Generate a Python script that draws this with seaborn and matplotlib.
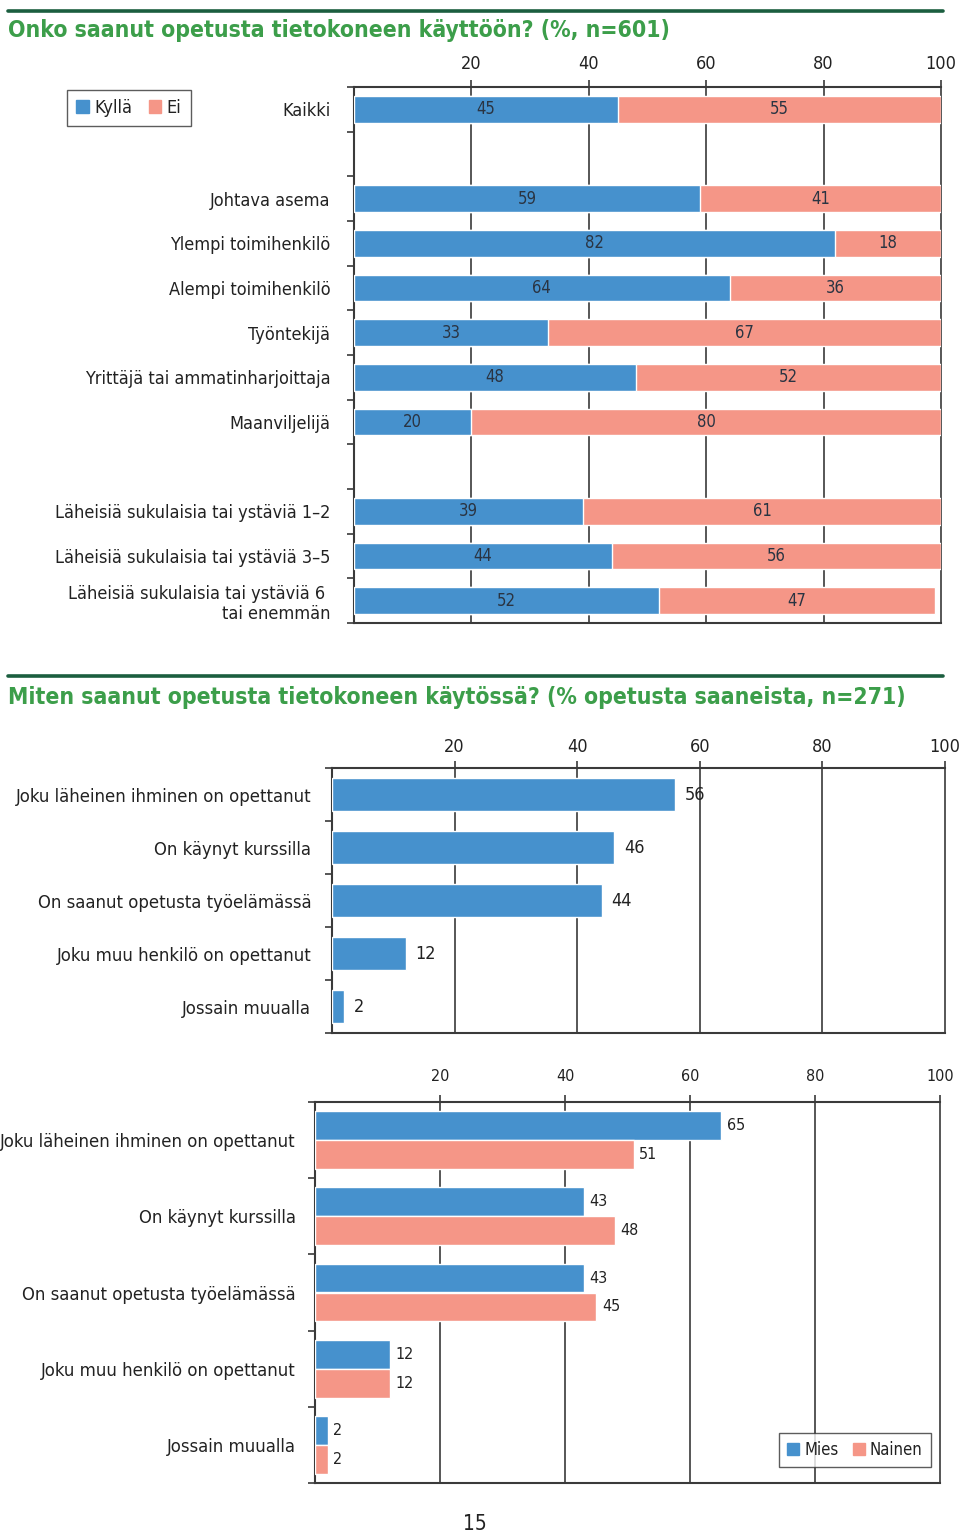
import matplotlib
matplotlib.use("Agg")
import matplotlib.pyplot as plt
from matplotlib.lines import Line2D
from matplotlib.ticker import FixedLocator
import seaborn as sns
import pandas as pd

sns.set_theme(style="white")
FONT = ["DejaVu Sans"]
plt.rcParams["font.family"] = FONT
plt.rcParams["font.stretch"] = "condensed"

BLUE = "#4691CD"
PINK = "#F59687"
GREEN = "#3C9E4A"
DKGREEN = "#1B5E3F"
GRID = "#3a3a3a"
TXT = "#222222"

# ---------------- data ----------------
groups1 = ["Kaikki", "", "Johtava asema", "Ylempi toimihenkilö", "Alempi toimihenkilö",
           "Työntekijä", "Yrittäjä tai ammatinharjoittaja", "Maanviljelijä", " ",
           "Läheisiä sukulaisia tai ystäviä 1–2", "Läheisiä sukulaisia tai ystäviä 3–5",
           "Läheisiä sukulaisia tai ystäviä 6 \ntai enemmän"]
kylla = [45, None, 59, 82, 64, 33, 48, 20, None, 39, 44, 52]
ei = [55, None, 41, 18, 36, 67, 52, 80, None, 61, 56, 47]

cats2 = ["Joku läheinen ihminen on opettanut", "On käynyt kurssilla",
         "On saanut opetusta työelämässä", "Joku muu henkilö on opettanut", "Jossain muualla"]
vals2 = [56, 46, 44, 12, 2]

mies = [65, 43, 43, 12, 2]
nainen = [51, 48, 45, 12, 2]

xticks = [20, 40, 60, 80, 100]

W, H = 960, 1540
fig = plt.figure(figsize=(W / 100, H / 100), dpi=100)


def px_axes(left, right, top, bottom):
    return fig.add_axes([left / W, 1 - bottom / H, (right - left) / W, (bottom - top) / H])


def style_axes(ax, n_slots, tick_fs, ylab_fs, ypad, xpad):
    ax.set_xlim(0, 100)
    ax.set_ylim(n_slots - 0.5, -0.5)
    ax.xaxis.tick_top()
    ax.set_xticks(xticks)
    ax.set_xticklabels([str(t) for t in xticks], fontsize=tick_fs, color=TXT)
    ax.tick_params(axis="x", which="major", direction="out", length=5, width=1.2,
                   color=GRID, pad=xpad, top=True, bottom=False)
    ax.yaxis.set_minor_locator(FixedLocator([i - 0.5 for i in range(n_slots + 1)]))
    ax.tick_params(axis="y", which="minor", direction="out", length=5, width=1.2,
                   color=GRID, left=True)
    ax.tick_params(axis="y", which="major", length=0, pad=ypad, labelsize=ylab_fs,
                   labelcolor=TXT)
    for t in xticks:
        ax.axvline(t, color=GRID, lw=1.2, zorder=0, clip_on=False)
    for s in ["left", "top", "bottom"]:
        ax.spines[s].set_visible(True)
        ax.spines[s].set_color(GRID)
        ax.spines[s].set_linewidth(1.5)
    ax.spines["right"].set_visible(False)
    ax.set_xlabel("")
    ax.set_ylabel("")
    ax.set_facecolor("white")


# ---------------- titles ----------------
fig.add_artist(Line2D([8 / W, 943 / W], [1 - 11 / H, 1 - 11 / H], color=DKGREEN, lw=2.6))
fig.text(8 / W, 1 - 31 / H, "Onko saanut opetusta tietokoneen käyttöön? (%, n=601)",
         fontsize=16.5, fontweight="bold", color=GREEN, va="center", ha="left")
fig.add_artist(Line2D([8 / W, 943 / W], [1 - 676 / H, 1 - 676 / H], color=DKGREEN, lw=2.6))
fig.text(8 / W, 1 - 697 / H, "Miten saanut opetusta tietokoneen käytössä? (% opetusta saaneista, n=271)",
         fontsize=16.5, fontweight="bold", color=GREEN, va="center", ha="left")

# ---------------- chart 1: stacked ----------------
df1 = pd.DataFrame({"ryhma": groups1, "Kyllä": kylla, "Ei": ei}).dropna()
df1["total"] = df1["Kyllä"] + df1["Ei"]
ax1 = px_axes(354, 941, 87, 623)
sns.barplot(data=df1, y="ryhma", x="total", order=groups1, color=PINK, saturation=1,
            width=0.6, orient="h", ax=ax1, errorbar=None, zorder=2)
sns.barplot(data=df1, y="ryhma", x="Kyllä", order=groups1, color=BLUE, saturation=1,
            width=0.6, orient="h", ax=ax1, errorbar=None, zorder=3)
style_axes(ax1, len(groups1), 13, 13, 17, 5)
ax1.set_yticks(range(len(groups1)))
ax1.set_yticklabels(groups1)
for lab in ax1.get_yticklabels():
    lab.set_linespacing(1.15)
for _, r in df1.iterrows():
    yi = groups1.index(r["ryhma"])
    ax1.text(r["Kyllä"] / 2, yi, f"{int(r['Kyllä'])}", ha="center", va="center",
             fontsize=12, color="#2a3442", zorder=5)
    ax1.text(r["Kyllä"] + r["Ei"] / 2, yi, f"{int(r['Ei'])}", ha="center", va="center",
             fontsize=12, color="#2a3442", zorder=5)

leg1 = [plt.Rectangle((0, 0), 1, 1, color=BLUE), plt.Rectangle((0, 0), 1, 1, color=PINK)]
fig.legend(leg1, ["Kyllä", "Ei"], loc="center", bbox_to_anchor=(129 / W, 1 - 108 / H),
           ncol=2, frameon=True, fancybox=False, edgecolor="#333333", fontsize=13,
           handlelength=0.7, handleheight=0.7, handletextpad=0.3, columnspacing=0.9,
           borderpad=0.5, labelcolor=TXT)

# ---------------- chart 2 ----------------
df2 = pd.DataFrame({"tapa": cats2, "osuus": vals2})
ax2 = px_axes(332, 945, 768, 1033)
sns.barplot(data=df2, y="tapa", x="osuus", order=cats2, color=BLUE, saturation=1,
            width=0.62, orient="h", ax=ax2, errorbar=None, zorder=3)
style_axes(ax2, len(cats2), 13, 13.2, 15, 4)
ax2.bar_label(ax2.containers[0], labels=[str(v) for v in vals2], padding=7,
              fontsize=13, color=TXT)

# ---------------- chart 3 ----------------
df3 = pd.DataFrame({
    "tapa": cats2 * 2,
    "osuus": mies + nainen,
    "sukupuoli": ["Mies"] * len(cats2) + ["Nainen"] * len(cats2),
})
ax3 = px_axes(315, 940, 1102, 1483)
sns.barplot(data=df3, y="tapa", x="osuus", hue="sukupuoli", order=cats2,
            hue_order=["Mies", "Nainen"], palette=[BLUE, PINK], saturation=1,
            width=0.76, gap=0, orient="h", ax=ax3, errorbar=None, zorder=3, legend=False)
style_axes(ax3, len(cats2), 11.5, 13.2, 14, 8)
for cont, vals in zip(ax3.containers, [mies, nainen]):
    ax3.bar_label(cont, labels=[str(v) for v in vals], padding=4, fontsize=11.5, color=TXT)

leg3 = [plt.Rectangle((0, 0), 1, 1, color=BLUE), plt.Rectangle((0, 0), 1, 1, color=PINK)]
fig.legend(leg3, ["Mies", "Nainen"], loc="center", bbox_to_anchor=(855 / W, 1 - 1450 / H),
           ncol=2, frameon=True, fancybox=False, edgecolor="#333333", fontsize=12,
           handlelength=0.7, handleheight=0.7, handletextpad=0.3, columnspacing=0.9,
           borderpad=0.5, labelcolor=TXT)

# page number
fig.text(475 / W, 1 - 1524 / H, "15", fontsize=15, color=TXT, ha="center", va="center")

fig.savefig("out.png", dpi=100, facecolor="white")
